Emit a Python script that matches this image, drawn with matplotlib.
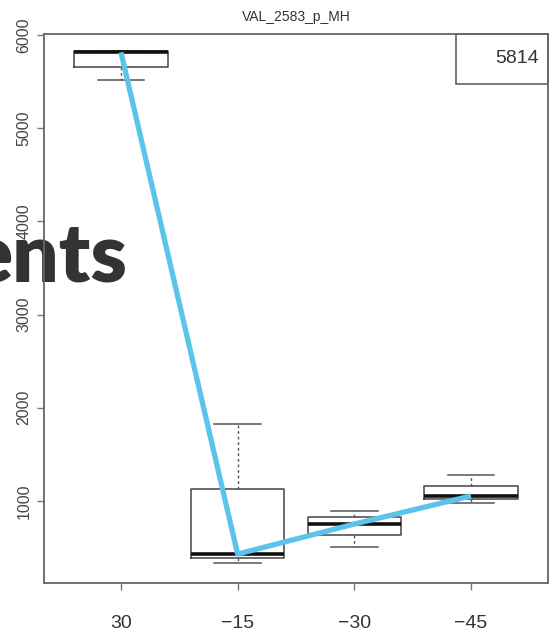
import matplotlib.pyplot as plt
from matplotlib.patches import Rectangle

plt.rcParams['font.family'] = ['Liberation Sans', 'DejaVu Sans']

# box statistics per temperature step
labels = ['30', '−15', '−30', '−45']
whislo = [5517, 335, 506, 979]
q1 = [5657, 388, 635, 1021]
med = [5814, 431, 753, 1054]
q3 = [5825, 1129, 828, 1161]
whishi = [5825, 1826, 893, 1279]
yticks = [1000, 2000, 3000, 4000, 5000, 6000]
title = 'VAL_2583_p_MH'

fig = plt.figure(figsize=(5.49, 6.34), dpi=100)
ax = fig.add_axes([0.0801, 0.0804, 0.918, 0.866])
ax.patch.set_alpha(0)

stats = []
for i in range(len(labels)):
    stats.append(dict(label=labels[i], whislo=whislo[i], q1=q1[i], med=med[i],
                      q3=q3[i], whishi=whishi[i], fliers=[]))

pos = list(range(1, len(labels) + 1))
ax.bxp(stats, positions=pos, widths=0.8, showfliers=False,
       boxprops=dict(color='#444444', lw=1.1),
       medianprops=dict(color='#111111', lw=2.6, solid_capstyle='butt'),
       whiskerprops=dict(color='#555555', lw=1.0, linestyle=(0, (2, 2))),
       capprops=dict(color='#555555', lw=1.1), capwidths=0.4)

ax.plot(pos, med, color='#5bc4ea', lw=3.8, solid_capstyle='butt', zorder=5)

ax.set_xlim(0.34, 4.66)
ax.set_ylim(120, 6011)
ax.set_yticks(yticks)
ax.set_yticklabels([str(v) for v in yticks], rotation=90, va='center')
ax.set_xticks(pos)
ax.set_xticklabels(labels)
ax.tick_params(axis='y', length=5, width=1, color='#777777', labelsize=11.5,
               labelcolor='#444444', pad=4)
ax.tick_params(axis='x', length=5, width=1, color='#777777', labelsize=14,
               labelcolor='#333333', pad=18)
for s in ax.spines.values():
    s.set_color('#666666')
    s.set_linewidth(1.3)

ax.set_title(title, fontsize=10, color='#333333', pad=9)

# legend box holding the first median
ax.add_patch(Rectangle((0.8175, 0.909), 0.1825, 0.091, transform=ax.transAxes,
                       fill=False, edgecolor='#555555', lw=1.1, clip_on=False))
ax.text(0.982, 0.956, str(med[0]), transform=ax.transAxes, ha='right',
        va='center', fontsize=14, color='#333333')

fig.text(128 / 549, 1 - 281 / 634, 'ents', ha='right', va='baseline',
         fontsize=59, fontweight='heavy', family=['Lato', 'DejaVu Sans'],
         color='#333333', zorder=-1)

fig.savefig('out.png', dpi=100)
